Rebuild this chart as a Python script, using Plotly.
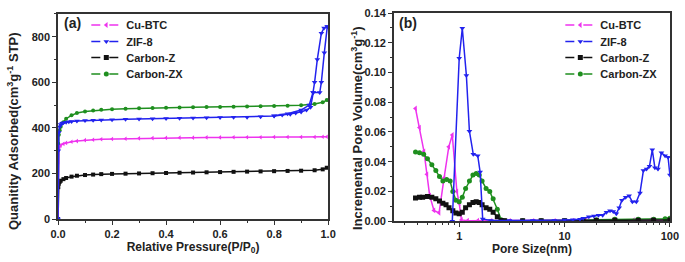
import plotly.graph_objects as go

# ---------------- Panel (a): N2 isotherms ----------------
p_iso = [0, 0.001, 0.003, 0.006, 0.01, 0.02, 0.03, 0.05, 0.07, 0.1, 0.13, 0.16, 0.2, 0.25,
         0.3, 0.35, 0.4, 0.45, 0.5, 0.55, 0.6, 0.65, 0.7, 0.75, 0.8, 0.85, 0.9, 0.95, 0.98, 0.995]
cubtc_iso = [0, 250, 305, 318, 323, 330, 334, 339, 342, 346, 348, 350, 351, 352,
             354, 355, 356, 357, 357, 358, 358, 359, 359, 359, 360, 360, 360, 360, 361, 361]
carbonz_iso = [0, 140, 155, 163, 168, 175, 180, 186, 190, 193, 195, 197, 198, 199,
               200, 201, 202, 203, 204, 205, 206, 207, 208, 209, 210, 211, 212, 214, 218, 225]
carbonzx_iso = [0, 330, 370, 390, 405, 425, 440, 455, 465, 472, 476, 479, 482, 484,
                486, 487, 488, 489, 490, 491, 492, 493, 494, 495, 496, 497, 499, 505, 512, 522]

p_zif_ads = [0, 0.001, 0.003, 0.006, 0.01, 0.015, 0.02, 0.03, 0.04, 0.05, 0.07, 0.1, 0.13,
             0.16, 0.2, 0.25, 0.3, 0.35, 0.4, 0.45, 0.5, 0.55, 0.6, 0.65, 0.7, 0.75, 0.8,
             0.83, 0.86, 0.88, 0.9, 0.92, 0.935, 0.945, 0.969, 0.975, 0.986, 0.997]
zif_ads = [0, 300, 380, 405, 415, 420, 422, 425, 427, 428, 430, 432, 433,
           435, 436, 438, 439, 440, 441, 442, 443, 444, 445, 446, 447, 449, 452,
           456, 460, 465, 470, 478, 490, 555, 555, 600, 730, 845]
p_zif_des = [0.997, 0.985, 0.975, 0.96, 0.95, 0.944, 0.93, 0.9, 0.85, 0.8]
zif_des = [845, 838, 815, 700, 600, 555, 500, 478, 462, 453]

# ---------------- Panel (b): pore size distribution ----------------
d_cubtc = [0.385, 0.42, 0.463, 0.494, 0.524, 0.576, 0.644, 0.718, 0.796, 0.86, 0.95, 1.0,
           1.05, 1.2, 1.5, 2, 3, 5, 8, 12, 16, 20, 30, 45, 65, 100]
v_cubtc = [0.0758, 0.063, 0.047, 0.0315, 0.0173, 0.0072, 0.0056, 0.029, 0.050, 0.058, 0.020, 0.012,
           0.0008, 0.0003, 0.0003, 0.0002, 0.0002, 0.0002, 0.0002, 0.0003, 0.0005, 0.0006, 0.0006, 0.0006, 0.0007, 0.0008]

d_zif = [0.86, 1.0, 1.07, 1.17, 1.25, 1.36, 1.5, 1.58, 1.67, 2, 3, 5, 8, 10, 12, 14,
         15, 17, 19, 21, 23, 25, 27, 29, 31, 33, 35, 38, 41, 44, 48, 52, 56, 60, 64,
         68, 72, 77, 83, 90, 96, 100]
v_zif = [0.0, 0.1096, 0.1298, 0.098, 0.0605, 0.045, 0.044, 0.033, 0.0015, 0.0005, 0.0004, 0.0004, 0.0005, 0.0008, 0.001, 0.0012,
         0.002, 0.003, 0.0035, 0.004, 0.004, 0.006, 0.007, 0.0065, 0.005, 0.009, 0.014, 0.016, 0.017, 0.013, 0.013, 0.019, 0.034, 0.035, 0.037,
         0.048, 0.036, 0.035, 0.046, 0.044, 0.043, 0.031]

d_cz = [0.385, 0.42, 0.45, 0.5, 0.55, 0.6, 0.65, 0.7, 0.75, 0.8, 0.87, 0.93, 1.0, 1.07, 1.15,
        1.25, 1.35, 1.45, 1.55, 1.65, 1.8, 1.95, 2.1, 2.3, 2.5, 2.7, 4, 6, 10, 15, 20, 30, 50, 70, 100]
v_cz = [0.0155, 0.016, 0.016, 0.0165, 0.016, 0.015, 0.0135, 0.012, 0.011, 0.009, 0.007, 0.0055, 0.005, 0.006, 0.009,
        0.011, 0.0125, 0.013, 0.0125, 0.011, 0.009, 0.008, 0.006, 0.003, 0.0005, 0.0002, 0.0002, 0.0002, 0.0003, 0.0004,
        0.0005, 0.0006, 0.0006, 0.0006, 0.0007]

d_czx = [0.385, 0.42, 0.46, 0.5, 0.55, 0.6, 0.65, 0.7, 0.76, 0.82, 0.87, 0.93, 1.0, 1.07, 1.15,
         1.25, 1.35, 1.45, 1.55, 1.65, 1.8, 1.95, 2.1, 2.3, 2.5, 2.7, 4, 6, 10, 15, 20, 30, 50, 70, 90, 100]
v_czx = [0.0465, 0.046, 0.045, 0.042, 0.038, 0.034, 0.030, 0.027, 0.028, 0.027, 0.020, 0.014, 0.013, 0.016, 0.022,
         0.027, 0.031, 0.032, 0.031, 0.027, 0.022, 0.020, 0.015, 0.008, 0.001, 0.0003, 0.0002, 0.0002, 0.0003, 0.0006,
         0.001, 0.0012, 0.0012, 0.0012, 0.0016, 0.002]

names = ["Cu-BTC", "ZIF-8", "Carbon-Z", "Carbon-ZX"]
colors = ["#ee33ee", "#2222ee", "#111111", "#1f8f1f"]
symbols = ["triangle-left", "triangle-down", "square", "circle"]

fig = go.Figure()

def add(x, y, i, xa, ya, size=5):
    fig.add_trace(go.Scatter(x=x, y=y, mode="lines+markers", xaxis=xa, yaxis=ya,
                             line=dict(color=colors[i], width=1.5),
                             marker=dict(symbol=symbols[i], size=size, color=colors[i]),
                             showlegend=False))

# panel a
add(p_iso, carbonz_iso, 2, "x", "y", 4)
add(p_iso, carbonzx_iso, 3, "x", "y", 4)
add(p_iso, cubtc_iso, 0, "x", "y", 4)
add(p_zif_ads, zif_ads, 1, "x", "y", 5)
add(p_zif_des, zif_des, 1, "x", "y", 5)
# panel b
add(d_cubtc, v_cubtc, 0, "x2", "y2")
add(d_czx, v_czx, 3, "x2", "y2")
add(d_cz, v_cz, 2, "x2", "y2")
add(d_zif, v_zif, 1, "x2", "y2")

axcol = "#333333"
FONT = "Arial, Liberation Sans"
tickfont = dict(family=FONT, size=11, color="#222", weight="bold")
titlefont = dict(family=FONT, size=12, color="#222", weight="bold")
ytitlefont = dict(family=FONT, size=13, color="#222", weight="bold")
legfont = dict(family=FONT, size=11, color="#222", weight="bold")

# legend entries (dashed line + marker), one small legend box per entry for tight spacing
legend_rows_px = [25, 41.5, 57.5, 74]
legend_layout = {}
k = 1
for xa, ya, lx in [("x", "y", 0.126), ("x2", "y2", 0.818)]:
    for i, n in enumerate(names):
        lname = "legend" if k == 1 else f"legend{k}"
        fig.add_trace(go.Scatter(x=[None], y=[None], mode="lines+markers", name=n,
                                 xaxis=xa, yaxis=ya, legend=lname,
                                 line=dict(color=colors[i], width=1.5, dash="dash"),
                                 marker=dict(symbol=symbols[i], size=5, color=colors[i])))
        legend_layout[lname] = dict(x=lx, y=1 - legend_rows_px[i] / 262, xanchor="left", yanchor="middle",
                                    bgcolor="rgba(0,0,0,0)", font=legfont, itemwidth=30)
        k += 1

common = dict(showline=True, linecolor=axcol, linewidth=1.5, mirror=True, ticks="outside",
              ticklen=4, tickwidth=1.2, tickcolor=axcol, showgrid=False, zeroline=False,
              tickfont=tickfont, automargin=False,
              minor=dict(ticks="outside", ticklen=2.5, tickwidth=1, tickcolor=axcol))

fig.update_layout(
    width=685, height=262, margin=dict(l=0, r=0, t=0, b=0, autoexpand=False),
    paper_bgcolor="white", plot_bgcolor="white",
    xaxis=dict(domain=[0.0847, 0.479], anchor="y", range=[0, 1.0], dtick=0.2, tickformat=".1f",
               title=dict(text="Relative Pressure(P/P<sub>0</sub>)", standoff=2, font=titlefont), **common),
    yaxis=dict(domain=[0.164, 0.947], anchor="x", range=[0, 900], tickvals=[0, 200, 400, 600, 800], **common),
    xaxis2=dict(domain=[0.575, 0.978], anchor="y2", type="log", range=[-0.62, 2.0],
                tickvals=[1, 10, 100], ticktext=["1", "10", "100"],
                title=dict(text="Pore Size(nm)", standoff=2, font=titlefont), **common),
    yaxis2=dict(domain=[0.156, 0.950], anchor="x2", range=[0, 0.14], dtick=0.02, tickformat=".2f", **common),
    annotations=[
        dict(text="(a)", x=0.09, y=0.95, xref="paper", yref="paper", xanchor="left", yanchor="top",
             showarrow=False, font=dict(family=FONT, size=14, color="#222", weight="bold")),
        dict(text="(b)", x=0.58, y=0.95, xref="paper", yref="paper", xanchor="left", yanchor="top",
             showarrow=False, font=dict(family=FONT, size=14, color="#222", weight="bold")),
        dict(text="Quanitity Adsorbed(cm<sup>3</sup>g<sup>-1</sup> STP)", textangle=-90,
             x=13 / 685, y=1 - 131 / 262, xref="paper", yref="paper", xanchor="center", yanchor="middle",
             showarrow=False, font=ytitlefont),
        dict(text="Incremental Pore Volume(cm<sup>3</sup>g<sup>-1</sup>)", textangle=-90,
             x=357 / 685, y=1 - 128 / 262, xref="paper", yref="paper", xanchor="center", yanchor="middle",
             showarrow=False, font=ytitlefont),
    ],
    **legend_layout,
)
fig.layout.xaxis.minor.dtick = 0.1
fig.layout.yaxis.minor.dtick = 100
fig.layout.yaxis2.minor.dtick = 0.01
fig.layout.xaxis2.minor.dtick = "D1"

fig.write_html("out.html", config={"displayModeBar": False},
               post_script="document.body.style.margin='0';")
